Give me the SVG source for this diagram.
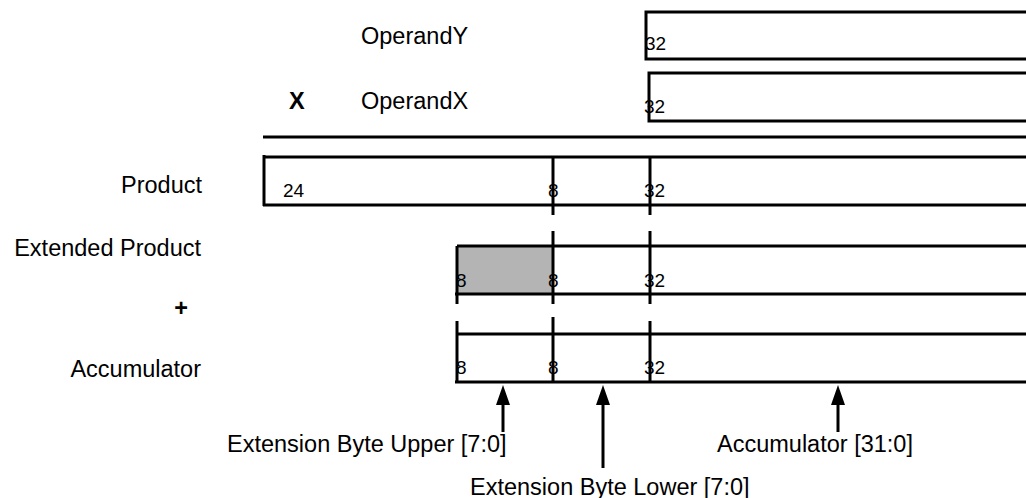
<svg xmlns="http://www.w3.org/2000/svg" width="1026" height="498" viewBox="0 0 1026 498">
<style>
text{font-family:"Liberation Sans",Arial,sans-serif;fill:#000}
.lbl{font-size:23.5px}
.num{font-size:19px}
.bold{font-weight:bold}
.ln{stroke:#000;stroke-width:3;fill:none}
</style>
<defs>
<marker id="ah" markerWidth="20" markerHeight="14" refX="1" refY="7" orient="auto" markerUnits="userSpaceOnUse" viewBox="0 0 20 14">
<path d="M0,0 L20,7 L0,14 Z" fill="#000"/>
</marker>
</defs>
<rect width="1026" height="498" fill="#fff"/>

<g id="operandY">
<text class="lbl" x="361" y="44">OperandY</text>
<text class="num" x="645" y="50">32</text>
<rect class="ln" x="646" y="12" width="400" height="47"/>
</g>

<g id="operandX">
<text class="lbl bold" x="289" y="109">X</text>
<text class="lbl" x="361" y="109">OperandX</text>
<text class="num" x="644" y="113">32</text>
<rect class="ln" x="649" y="73" width="400" height="48"/>
</g>

<g id="divider">
<line class="ln" x1="263" y1="137" x2="1030" y2="137"/>
</g>

<g id="product">
<text class="lbl" x="202" y="193" text-anchor="end">Product</text>
<text class="num" x="283" y="197">24</text>
<text class="num" x="548" y="197">8</text>
<text class="num" x="644" y="197">32</text>
<line class="ln" x1="264" y1="155" x2="264" y2="206"/>
<line class="ln" x1="263" y1="157" x2="1030" y2="157"/>
<line class="ln" x1="263" y1="205" x2="1030" y2="205"/>
<line class="ln" x1="553" y1="157" x2="553" y2="215"/>
<line class="ln" x1="650" y1="157" x2="650" y2="215"/>
</g>

<g id="extendedProduct">
<text class="lbl" x="201" y="256" text-anchor="end">Extended Product</text>
<rect x="457" y="246" width="96" height="48" fill="#b4b4b4"/>
<text class="num" x="456" y="287">8</text>
<text class="num" x="548" y="287">8</text>
<text class="num" x="644" y="287">32</text>
<line class="ln" x1="457" y1="246" x2="1030" y2="246"/>
<line class="ln" x1="455" y1="294" x2="1030" y2="294"/>
<line class="ln" x1="457" y1="246" x2="457" y2="304"/>
<line class="ln" x1="553" y1="231" x2="553" y2="304"/>
<line class="ln" x1="650" y1="231" x2="650" y2="304"/>
</g>

<g id="plus">
<text class="lbl bold" x="181" y="316" text-anchor="middle">+</text>
</g>

<g id="accumulator">
<text class="lbl" x="201" y="377" text-anchor="end">Accumulator</text>
<text class="num" x="456" y="374">8</text>
<text class="num" x="548" y="374">8</text>
<text class="num" x="644" y="374">32</text>
<line class="ln" x1="457" y1="334" x2="1030" y2="334"/>
<line class="ln" x1="455" y1="382" x2="1030" y2="382"/>
<line class="ln" x1="457" y1="321" x2="457" y2="383"/>
<line class="ln" x1="553" y1="317" x2="553" y2="383"/>
<line class="ln" x1="650" y1="321" x2="650" y2="383"/>
</g>

<g id="fieldLabels">
<text class="lbl" x="227" y="452">Extension Byte Upper [7:0]</text>
<text class="lbl" x="470" y="495">Extension Byte Lower [7:0]</text>
<text class="lbl" x="717" y="452">Accumulator [31:0]</text>
</g>

<g id="connectors">
<line class="ln" x1="503" y1="432" x2="503" y2="404" marker-end="url(#ah)"/>
<line class="ln" x1="603" y1="468" x2="603" y2="404" marker-end="url(#ah)"/>
<line class="ln" x1="838" y1="432" x2="838" y2="404" marker-end="url(#ah)"/>
</g>
</svg>
